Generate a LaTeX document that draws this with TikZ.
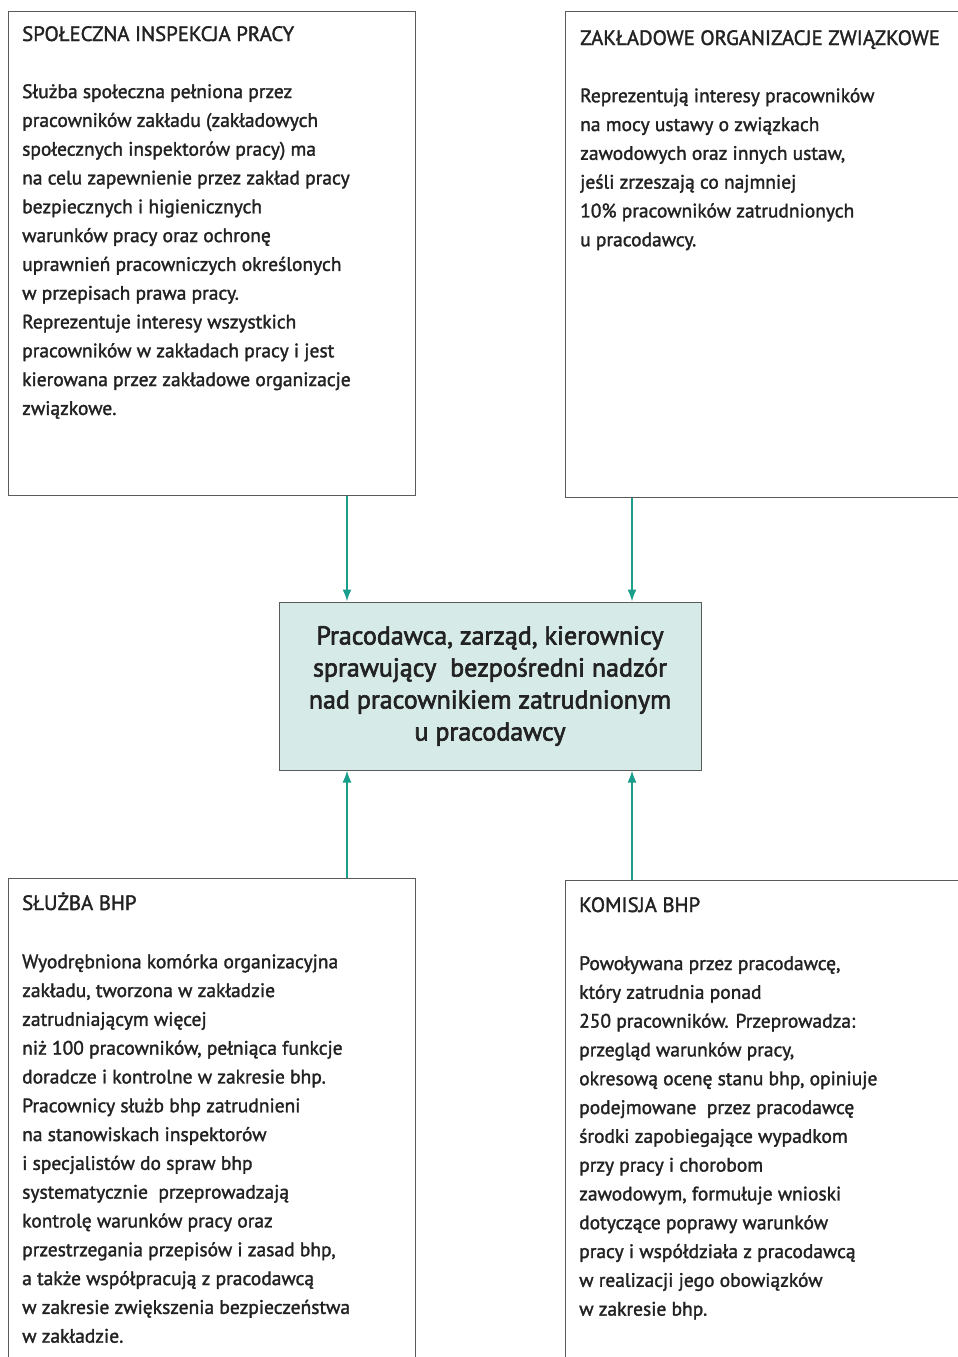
\documentclass[tikz,border=0pt]{standalone}
\usepackage{fontspec}
\setmainfont{PT Sans}[FakeBold=1.6]
\newfontfamily\centerfont{PT Sans}[FakeBold=2.4]
\usetikzlibrary{arrows.meta}
\definecolor{tealarr}{HTML}{1A9E8C}
\definecolor{boxfill}{HTML}{D6EBE8}
\definecolor{boxline}{HTML}{5A5A5A}
\definecolor{txt}{HTML}{222222}
\tikzset{
  box/.style={draw=boxline, line width=0.9pt, inner sep=0pt, anchor=north west},
  centerbox/.style={draw=boxline, line width=1pt, fill=boxfill, inner sep=0pt,
    minimum width=422pt, minimum height=168pt, align=center, text=txt,
    font=\centerfont\fontsize{26}{32}\selectfont},
  head/.style={anchor=base west, inner sep=0pt, text=txt, font=\fontsize{20.8}{28.8}\selectfont},
  body/.style={anchor=north west, inner sep=0pt, align=left, text=txt, font=\fontsize{19.5}{28.8}\selectfont},
  arr/.style={draw=tealarr, line width=1.8pt, -{Latex[length=12pt,width=9pt]}}
}
\begin{document}
\begin{tikzpicture}[x=1pt,y=-1pt]
\useasboundingbox (0,0) rectangle (958,1357);
\fill[white] (0,0) rectangle (958,1357);
% boxes
\node[box, minimum width=407pt, minimum height=484pt] (tl) at (8,11) {};
\node[box, minimum width=400pt, minimum height=486pt] (tr) at (565,11) {};
\node[box, minimum width=407pt, minimum height=490pt] (bl) at (8,878) {};
\node[box, minimum width=400pt, minimum height=490pt] (br) at (565,880) {};
\node[centerbox] (c) at (490,686) {Pracodawca, zarząd, kierownicy\\sprawujący\ \ bezpośredni nadzór\\nad pracownikiem zatrudnionym\\u pracodawcy};
% texts
\node[head] (tlh) at (22,41) {SPOŁECZNA INSPEKCJA PRACY};
\node[body] (tlb) at (22,84) {Służba społeczna pełniona przez\\pracowników zakładu (zakładowych\\społecznych inspektorów pracy) ma\\na celu zapewnienie przez zakład pracy\\bezpiecznych i higienicznych\\warunków pracy oraz ochronę\\uprawnień pracowniczych określonych\\w przepisach prawa pracy.\\Reprezentuje interesy wszystkich\\pracowników w zakładach pracy i jest\\kierowana przez zakładowe organizacje\\związkowe.};
\node[head] (trh) at (580,45) {ZAKŁADOWE ORGANIZACJE ZWIĄZKOWE};
\node[body] (trb) at (580,88) {Reprezentują interesy pracowników\\na mocy ustawy o związkach\\zawodowych oraz innych ustaw,\\jeśli zrzeszają co najmniej\\10\% pracowników zatrudnionych\\u pracodawcy.};
\node[head] (blh) at (22,910) {SŁUŻBA BHP};
\node[body] (blb) at (22,954) {Wyodrębniona komórka organizacyjna\\zakładu, tworzona w zakładzie\\zatrudniającym więcej\\niż 100 pracowników, pełniąca funkcje\\doradcze i kontrolne w zakresie bhp.\\Pracownicy służb bhp zatrudnieni\\na stanowiskach inspektorów\\i specjalistów do spraw bhp\\systematycznie\ \ przeprowadzają\\kontrolę warunków pracy oraz\\przestrzegania przepisów i zasad bhp,\\a także współpracują z pracodawcą\\w zakresie zwiększenia bezpieczeństwa\\w zakładzie.};
\node[head] (brh) at (579,912) {KOMISJA BHP};
\node[body] (brb) at (579,956) {Powoływana przez pracodawcę,\\który zatrudnia ponad\\250 pracowników. Przeprowadza:\\przegląd warunków pracy,\\okresową ocenę stanu bhp, opiniuje\\podejmowane\ \ przez pracodawcę\\środki zapobiegające wypadkom\\przy pracy i chorobom\\zawodowym, formułuje wnioski\\dotyczące poprawy warunków\\pracy i współdziała z pracodawcą\\w realizacji jego obowiązków\\w zakresie bhp.};
% arrow columns
\coordinate (xa) at (347,0);
\coordinate (xb) at (632,0);
\draw[arr] (tl.south -| xa) -- (c.north -| xa);
\draw[arr] (tr.south -| xb) -- (c.north -| xb);
\draw[arr] (bl.north -| xa) -- (c.south -| xa);
\draw[arr] (br.north -| xb) -- (c.south -| xb);
\end{tikzpicture}
\end{document}
